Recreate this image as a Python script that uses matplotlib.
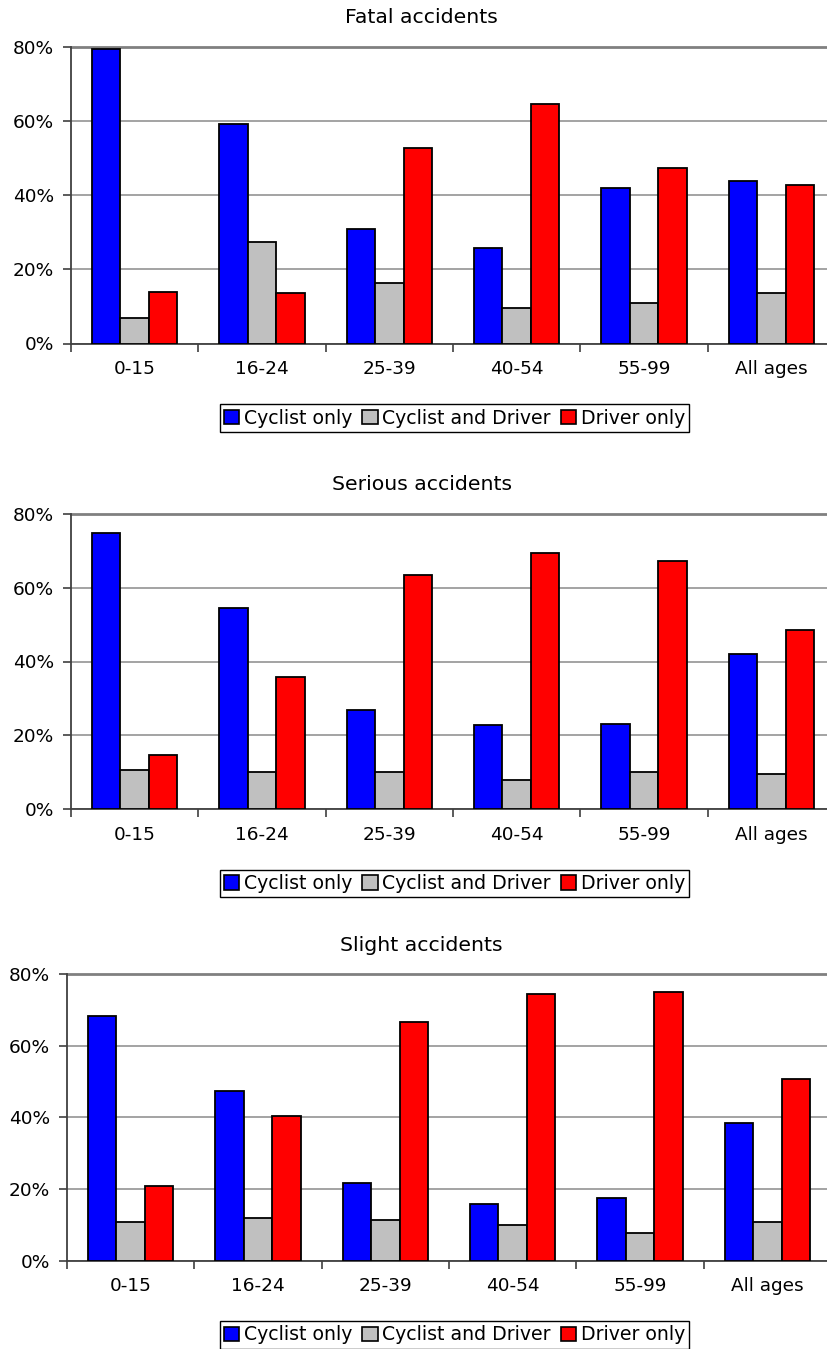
import matplotlib
matplotlib.use("Agg")
import matplotlib.pyplot as plt
import numpy as np
from matplotlib.patches import Patch

plt.rcParams['font.family'] = ['DejaVu Sans']

age_groups = ["0-15", "16-24", "25-39", "40-54", "55-99", "All ages"]
series_names = ["Cyclist only", "Cyclist and Driver", "Driver only"]
series_colors = ["#0000FF", "#C0C0C0", "#FF0000"]

panel_titles = ["Fatal accidents", "Serious accidents", "Slight accidents"]

fatal_cyclist = [79.3, 59.1, 30.9, 25.8, 41.9, 43.7]
fatal_both = [6.9, 27.3, 16.4, 9.7, 10.9, 13.5]
fatal_driver = [13.8, 13.6, 52.8, 64.5, 47.3, 42.7]

serious_cyclist = [74.9, 54.5, 26.8, 22.8, 23.1, 41.9]
serious_both = [10.7, 9.9, 9.9, 7.9, 9.9, 9.6]
serious_driver = [14.6, 35.8, 63.5, 69.4, 67.3, 48.6]

slight_cyclist = [68.3, 47.5, 21.8, 15.7, 17.5, 38.5]
slight_both = [10.7, 11.9, 11.3, 9.9, 7.7, 10.8]
slight_driver = [20.9, 40.4, 66.8, 74.5, 75.1, 50.8]

panels = [
    (fatal_cyclist, fatal_both, fatal_driver),
    (serious_cyclist, serious_both, serious_driver),
    (slight_cyclist, slight_both, slight_driver),
]

W, H = 827, 1349
fig = plt.figure(figsize=(W / 100, H / 100), dpi=100)

# plot-area boxes in pixels: left, right, top, bottom
boxes = [
    (71, 835, 46.7, 343.5),
    (71, 835, 514.0, 809.0),
    (67, 831, 974.3, 1260.5),
]
title_x = 421.5
legend_x = 454.5

bar_w = 0.223
x = np.arange(len(age_groups))

for (left, right, top, bottom), title, data in zip(boxes, panel_titles, panels):
    ax = fig.add_axes([left / W, 1 - bottom / H, (right - left) / W, (bottom - top) / H])
    for i, (vals, col) in enumerate(zip(data, series_colors)):
        ax.bar(x + (i - 1) * bar_w, vals, width=bar_w, color=col,
               edgecolor="black", linewidth=1.3, zorder=3)
    ax.set_xlim(-0.5, len(age_groups) - 0.5)
    ax.set_ylim(0, 80)
    ax.set_yticks([0, 20, 40, 60, 80])
    ax.set_yticklabels(["0%", "20%", "40%", "60%", "80%"], fontsize=13.3)
    ax.yaxis.grid(True, color="#939393", linewidth=1.2, zorder=0)
    ax.set_axisbelow(True)
    # category boundaries carry the tick marks, labels sit between them
    ax.set_xticks(np.arange(len(age_groups) + 1) - 0.5)
    ax.set_xticklabels([])
    ax.set_xticks(x, minor=True)
    ax.set_xticklabels(age_groups, minor=True, fontsize=13.3)
    ax.tick_params(axis="x", which="minor", length=0, pad=12)
    ax.tick_params(axis="x", which="major", length=6, width=1.2, color="#404040", direction="out")
    ax.tick_params(axis="y", length=6, width=1.2, color="#404040", direction="out", pad=6)
    for s in ["top", "right"]:
        ax.spines[s].set_visible(False)
    for s in ["left", "bottom"]:
        ax.spines[s].set_color("#404040")
        ax.spines[s].set_linewidth(1.3)
    ax.axhline(80, color="#808080", linewidth=2.0, zorder=1, clip_on=False)

    fig.text(title_x / W, 1 - (top - 29) / H, title, ha="center", va="center", fontsize=14.7)

    handles = [Patch(facecolor=c, edgecolor="black", linewidth=1.2) for c in series_colors]
    fig.legend(handles, series_names, loc="center",
               bbox_to_anchor=(legend_x / W, 1 - (bottom + 74.5) / H),
               ncol=3, fontsize=13.6, frameon=True, fancybox=False,
               edgecolor="black", framealpha=1,
               handlelength=0.8, handleheight=0.8, handletextpad=0.25,
               columnspacing=0.55, borderpad=0.22, borderaxespad=0)

fig.savefig("out.png", dpi=100)
